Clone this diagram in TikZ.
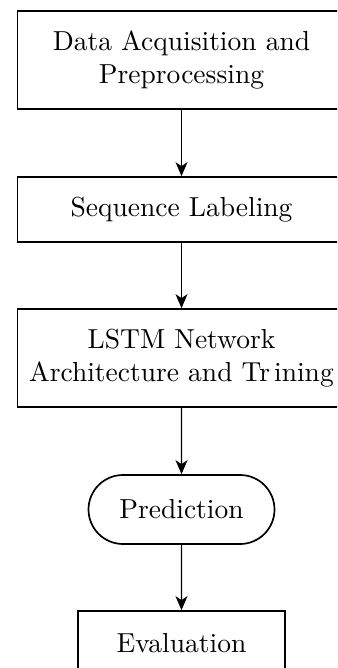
\documentclass[tikz,border=0pt]{standalone}
\usepackage{fontspec}
\setmainfont{lmroman10-regular}[Extension=.otf]
\usetikzlibrary{arrows.meta,shapes.misc}
\begin{document}
\begin{tikzpicture}[x=1pt,y=-1pt,
  every node/.style={font=\fontsize{27.5}{33}\selectfont, align=center, line width=1.7pt, inner sep=0pt},
  boxa/.style={draw, rectangle},
  pill/.style={draw, rounded rectangle},
  arr/.style={line width=1.4pt, -{Stealth[length=14pt,width=12pt,inset=4pt]}}]
\useasboundingbox (0,0) rectangle (337,668);
\clip (0,0) rectangle (337,668);
\fill[white] (0,0) rectangle (337,668);
\node[boxa, minimum width=328pt, minimum height=98pt] (n1) at (181.5,60) {Data Acquisition and\\Preprocessing};
\node[boxa, minimum width=328pt, minimum height=65pt] (n2) at (181.5,209.5) {Sequence Labeling};
\node[boxa, minimum width=328pt, minimum height=98pt] (n3) at (181.5,358) {LSTM Network\\Architecture and Tr\hspace{0.15em}ining};
\node[pill, minimum width=186pt, minimum height=69pt] (n4) at (181.5,509.5) {Prediction};
\node[boxa, minimum width=207pt, minimum height=65pt] (n5) at (181.5,643.5) {Evaluation};
\draw[arr] (n1) -- (n2);
\draw[arr] (n2) -- (n3);
\draw[arr] (n3) -- (n4);
\draw[arr] (n4) -- (n5);
\end{tikzpicture}
\end{document}
